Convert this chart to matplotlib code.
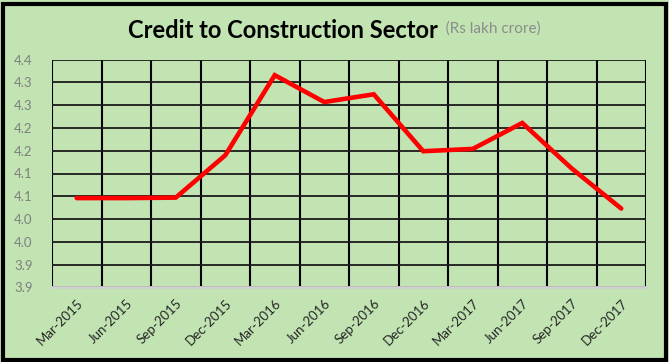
import matplotlib
matplotlib.use('Agg')
import matplotlib.pyplot as plt
from matplotlib.patches import Rectangle
from matplotlib.ticker import FixedLocator, FixedFormatter
import numpy as np

# Donnees
trimestres = ['Mar-2015', 'Jun-2015', 'Sep-2015', 'Dec-2015', 'Mar-2016', 'Jun-2016',
              'Sep-2016', 'Dec-2016', 'Mar-2017', 'Jun-2017', 'Sep-2017', 'Dec-2017']
credit = [4.046, 4.046, 4.047, 4.140, 4.316, 4.257, 4.274, 4.149, 4.154, 4.211, 4.111, 4.023]

# Graduations de l'axe Y (arrondies a une decimale comme dans Excel)
y_ticks = [3.85, 3.90, 3.95, 4.00, 4.05, 4.10, 4.15, 4.20, 4.25, 4.30, 4.35]
y_labels = ['3.9', '3.9', '4.0', '4.0', '4.1', '4.1', '4.2', '4.2', '4.3', '4.3', '4.4']

vert = '#c2e4b3'

fig = plt.figure(figsize=(6.69, 3.62), dpi=100)
fig.patch.set_facecolor(vert)

# cadre noir
fig.patches.append(Rectangle((2.5 / 669, 1 - 360 / 362), 663.5 / 669, 356 / 362,
                             transform=fig.transFigure, fill=False,
                             edgecolor='black', linewidth=3, zorder=10))

ax = fig.add_axes([52 / 669, 1 - 287.3 / 362, 594 / 669, 227.6 / 362])
ax.set_facecolor(vert)

x = np.arange(len(trimestres))
ax.plot(x, credit, color='#ff0000', linewidth=3.3, solid_capstyle='round',
        solid_joinstyle='miter', zorder=3)

ax.set_xlim(-0.5, len(trimestres) - 0.5)
ax.set_ylim(y_ticks[0], y_ticks[-1])

ax.yaxis.set_major_locator(FixedLocator(y_ticks))
ax.yaxis.set_major_formatter(FixedFormatter(y_labels))
ax.set_xticks(x)
ax.set_xticklabels(trimestres, rotation=45, ha='right', rotation_mode='anchor',
                   fontsize=9.5, color='#262626', family='Lato')
ax.set_xticks(np.arange(-0.5, len(trimestres)), minor=True)

ax.tick_params(axis='x', which='major', length=0, pad=7)
ax.tick_params(axis='x', which='minor', length=0)
ax.tick_params(axis='y', length=0, pad=14, labelsize=9.5, labelcolor='#7f7f7f')
for lab in ax.get_yticklabels():
    lab.set_family('Lato')

ax.grid(True, axis='y', which='major', color='#1a1a1a', linewidth=1.3)
ax.grid(True, axis='x', which='minor', color='black', linewidth=1.5)
ax.set_axisbelow(True)

for s in ['top', 'right', 'left']:
    ax.spines[s].set_visible(False)
ax.spines['bottom'].set_color('#d0d0d0')
ax.spines['bottom'].set_linewidth(2)

# Titre + unite, centres ensemble
titre = fig.text(0.5, 1 - 30 / 362, 'Credit to Construction Sector', fontsize=17,
                 fontweight='bold', family='Lato', color='black', ha='left', va='center')
unite = fig.text(0.5, 1 - 30 / 362, '  (Rs lakh crore)', fontsize=11, family='Lato',
                 color='#8c8c8c', ha='left', va='center')
fig.canvas.draw()
r = fig.canvas.get_renderer()
w1 = titre.get_window_extent(r).width
w2 = unite.get_window_extent(r).width
x0 = (fig.bbox.width - (w1 + w2)) / 2
titre.set_x(x0 / fig.bbox.width)
unite.set_x((x0 + w1) / fig.bbox.width)
unite.set_y(1 - 29 / 362)

fig.savefig('out.png', dpi=100, facecolor=vert)
